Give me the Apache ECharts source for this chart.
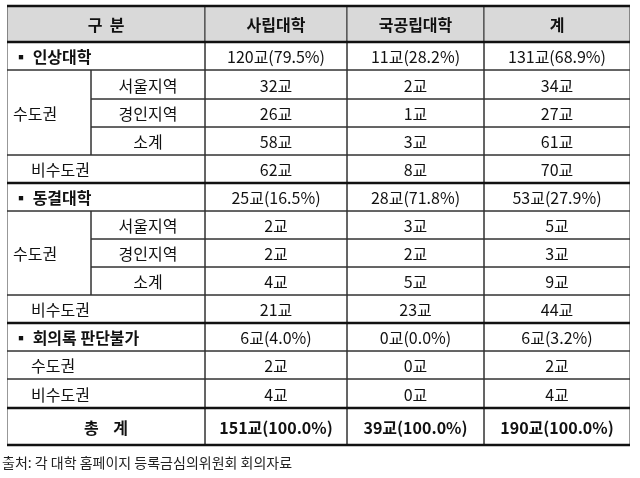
<!DOCTYPE html>
<html>
<head>
<meta charset="utf-8">
<script src="https://cdn.jsdelivr.net/npm/echarts@6/dist/echarts.min.js"></script>
<style>html,body{margin:0;padding:0;background:#fff}</style>
</head>
<body>
<div id="main" style="width:640px;height:478px"></div>
<script>
// 표 내용
var headers = ['구  분', '사립대학', '국공립대학', '계'];
var rowLabels = ['▪ 인상대학', '서울지역', '경인지역', '소계', '비수도권',
                 '▪ 동결대학', '서울지역', '경인지역', '소계', '비수도권',
                 '▪ 회의록 판단불가', '수도권', '비수도권', '총    계'];
var colPrivate = ['120교(79.5%)', '32교', '26교', '58교', '62교', '25교(16.5%)', '2교', '2교', '4교', '21교', '6교(4.0%)', '2교', '4교', '151교(100.0%)'];
var colPublic = ['11교(28.2%)', '2교', '1교', '3교', '8교', '28교(71.8%)', '3교', '2교', '5교', '23교', '0교(0.0%)', '0교', '0교', '39교(100.0%)'];
var colTotal = ['131교(68.9%)', '34교', '27교', '61교', '70교', '53교(27.9%)', '5교', '3교', '9교', '44교', '6교(3.2%)', '2교', '4교', '190교(100.0%)'];
var groupLabel = '수도권';
var source = '출처: 각 대학 홈페이지 등록금심의위원회 회의자료';

// 레이아웃
var xEdges = [7, 91, 205, 347, 484, 630];
var yEdges = [6, 42, 70, 99, 127, 155, 183, 211, 239, 267, 295, 323, 351, 379, 408, 445];
var sectionRows = [0, 5, 10];
var subRows = [1, 2, 3, 6, 7, 8];
var thickLines = [0, 1, 6, 11, 14, 15];

var cells = [];
function cell(x0, x1, r0, r1, text, opt) {
  opt = opt || {};
  cells.push([x0, yEdges[r0], x1, yEdges[r1], text, opt.bold ? 1 : 0, opt.fill || '', opt.align || 'center', opt.pad || 0]);
}
cell(xEdges[0], xEdges[2], 0, 1, headers[0], {bold: 1, fill: '#d9d9d9'});
for (var c = 1; c < 4; c++) cell(xEdges[c + 1], xEdges[c + 2], 0, 1, headers[c], {bold: 1, fill: '#d9d9d9'});
var cols = [colPrivate, colPublic, colTotal];
rowLabels.forEach(function (lab, i) {
  var r = i + 1;
  if (subRows.indexOf(i) >= 0) {
    cell(xEdges[1], xEdges[2], r, r + 1, lab);
  } else if (sectionRows.indexOf(i) >= 0) {
    cell(xEdges[0], xEdges[2], r, r + 1, lab, {bold: 1, align: 'left', pad: 6});
  } else if (i === 13) {
    cell(xEdges[0], xEdges[2], r, r + 1, lab, {bold: 1});
  } else {
    cell(xEdges[0], xEdges[2], r, r + 1, lab, {align: 'left', pad: 24});
  }
  cols.forEach(function (col, k) {
    cell(xEdges[k + 2], xEdges[k + 3], r, r + 1, col[i], {bold: i === 13});
  });
});
cell(xEdges[0], xEdges[1], 2, 5, groupLabel, {align: 'left', pad: 6});
cell(xEdges[0], xEdges[1], 7, 10, groupLabel, {align: 'left', pad: 6});

var lines = thickLines.map(function (r) { return [xEdges[0], yEdges[r], xEdges[5], yEdges[r]]; });

var chart = echarts.init(document.getElementById('main'));
chart.setOption({
  animation: false,
  grid: {left: 0, right: 0, top: 0, bottom: 0},
  xAxis: {type: 'value', min: 0, max: 640, show: false},
  yAxis: {type: 'value', min: 0, max: 478, inverse: true, show: false},
  series: [{
    type: 'custom',
    data: cells,
    renderItem: function (params, api) {
      var p0 = api.coord([api.value(0), api.value(1)]);
      var p1 = api.coord([api.value(2), api.value(3)]);
      var d = cells[params.dataIndex];
      var align = d[7];
      var tx = align === 'left' ? p0[0] + d[8] : (p0[0] + p1[0]) / 2;
      return {type: 'group', children: [{
        type: 'rect',
        shape: {x: p0[0], y: p0[1], width: p1[0] - p0[0], height: p1[1] - p0[1]},
        style: {fill: d[6] || 'rgba(0,0,0,0)', stroke: '#333', lineWidth: 1}
      }, {
        type: 'text',
        style: {
          x: tx, y: (p0[1] + p1[1]) / 2 + 1, text: d[4], align: align, verticalAlign: 'middle',
          fill: '#111', font: (d[5] ? 'bold ' : '') + '16px "Noto Sans CJK KR"'
        }
      }]};
    }
  }, {
    type: 'custom',
    data: lines,
    renderItem: function (params, api) {
      var p0 = api.coord([api.value(0), api.value(1)]);
      var p1 = api.coord([api.value(2), api.value(3)]);
      return {type: 'line', shape: {x1: p0[0], y1: p0[1], x2: p1[0], y2: p1[1]}, style: {stroke: '#111', lineWidth: 2.5}};
    }
  }],
  graphic: [{type: 'text', left: 2, top: 456, style: {text: source, fill: '#222', font: '14px "Noto Sans CJK KR"'}},
    {type: 'rect', shape: {x: 0, y: 0, width: 7, height: 450}, style: {fill: '#fff'}, z: 100},
    {type: 'rect', shape: {x: 630, y: 0, width: 10, height: 450}, style: {fill: '#fff'}, z: 100}]
});
</script>
</body>
</html>
